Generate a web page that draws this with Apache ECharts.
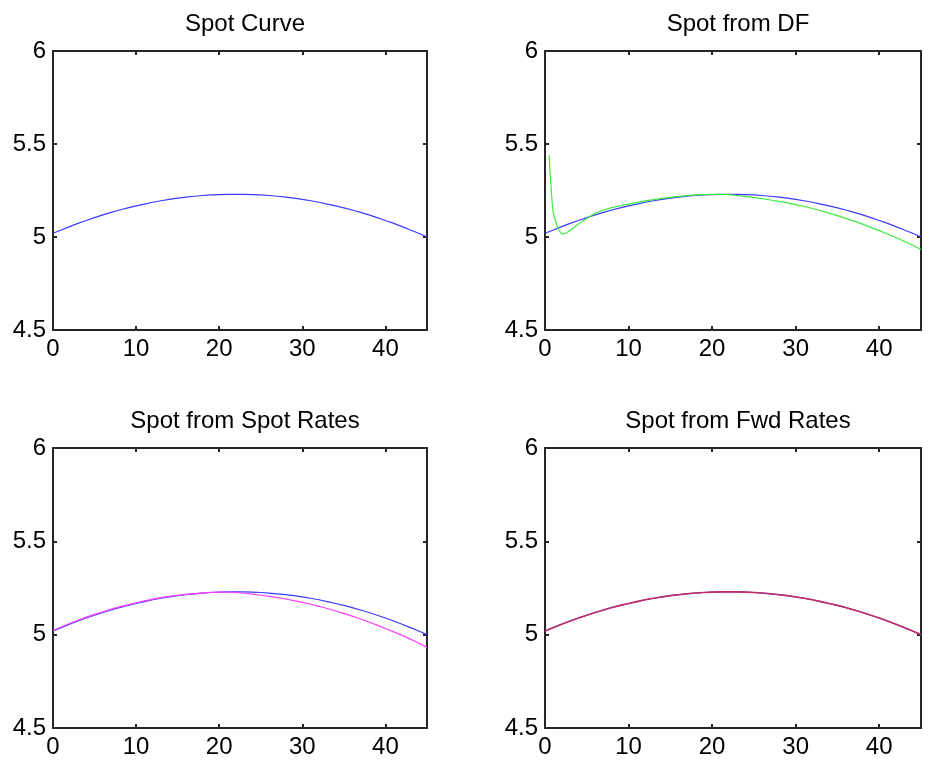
<!DOCTYPE html>
<html>
<head>
<meta charset="utf-8">
<script src="https://cdn.jsdelivr.net/npm/echarts@6/dist/echarts.min.js"></script>
<style>
html,body{margin:0;padding:0;background:#fff;}
#chart{width:930px;height:776px;}
</style>
</head>
<body>
<div id="chart"></div>
<script>
// ---- data ----
var panelTitles = ['Spot Curve', 'Spot from DF', 'Spot from Spot Rates', 'Spot from Fwd Rates'];
var xTickLabels = [0, 10, 20, 30, 40];
var yTickLabels = [4.5, 5, 5.5, 6];

var years = [0,1,2,3,4,5,6,7,8,9,10,11,12,13,14,15,16,17,18,19,20,21,22,23,24,25,26,27,28,29,30,31,32,33,34,35,36,37,38,39,40,41,42,43,44,45];

var spotCurve = [5.020,5.038,5.056,5.073,5.089,5.104,5.119,5.132,5.145,5.157,5.167,5.177,5.187,5.195,5.202,5.209,5.214,5.219,5.223,5.226,5.228,5.229,5.229,5.229,5.228,5.226,5.223,5.219,5.214,5.209,5.202,5.195,5.187,5.177,5.167,5.157,5.145,5.132,5.119,5.104,5.089,5.073,5.056,5.038,5.020,5.000];

var dfYears = [0.5,0.6,0.7,0.8,0.9,1.0,1.2,1.5,2.0,2.5,3,4,5,6,7,8,9,10,11,12,13,14,15,16,17,18,19,20,21,22,23,24,25,26,27,28,29,30,31,32,33,34,35,36,37,38,39,40,41,42,43,44,45];
var spotFromDF = [5.440,5.350,5.290,5.220,5.160,5.130,5.095,5.050,5.015,5.020,5.035,5.070,5.100,5.128,5.145,5.158,5.168,5.177,5.186,5.194,5.201,5.208,5.213,5.218,5.222,5.226,5.228,5.229,5.229,5.228,5.223,5.218,5.212,5.206,5.199,5.192,5.183,5.174,5.164,5.153,5.141,5.128,5.115,5.100,5.085,5.069,5.052,5.034,5.016,4.997,4.977,4.956,4.933];

var spotFromSpot = [5.022,5.041,5.060,5.077,5.094,5.109,5.123,5.137,5.149,5.160,5.171,5.181,5.190,5.198,5.205,5.211,5.216,5.220,5.224,5.227,5.228,5.228,5.226,5.222,5.217,5.211,5.205,5.198,5.191,5.182,5.173,5.163,5.152,5.140,5.127,5.114,5.099,5.084,5.068,5.051,5.033,5.015,4.996,4.976,4.955,4.932];

var spotFromFwd = [5.020,5.038,5.056,5.073,5.089,5.104,5.119,5.132,5.145,5.157,5.167,5.177,5.187,5.195,5.202,5.209,5.214,5.219,5.223,5.226,5.228,5.229,5.229,5.229,5.228,5.226,5.223,5.219,5.214,5.209,5.202,5.195,5.187,5.177,5.167,5.157,5.145,5.132,5.119,5.104,5.089,5.073,5.056,5.038,5.020,5.000];

function pairs(xs, ys){ return xs.map(function(x,i){ return [x, ys[i]]; }); }

// ---- layout ----
var FONT = 'Liberation Sans, Arial, sans-serif';
var AX = '#262626';
var W = 930;
var grids = [
  {left:53, top:51, right:W-427, height:279},
  {left:545, top:51, right:W-921, height:279},
  {left:53, top:448, right:W-427, height:280},
  {left:545, top:448, right:W-921, height:280}
];

var xMin = xTickLabels[0], xMax = 45, xInt = xTickLabels[1]-xTickLabels[0];
var yMin = yTickLabels[0], yMax = yTickLabels[yTickLabels.length-1], yInt = yTickLabels[1]-yTickLabels[0];

var xAxes = [], yAxes = [], titles = [];
grids.forEach(function(g, i){
  var gw = W - g.right - g.left;
  titles.push({
    text: panelTitles[i], left: g.left + gw/2, top: g.top - 44, textAlign: 'center',
    textStyle: {fontFamily: FONT, fontSize: 24, fontWeight: 'normal', color: '#000'}
  });
  var base = {
    type:'value', gridIndex:i, min:xMin, max:xMax, interval:xInt,
    axisLine:{show:true, onZero:false, lineStyle:{color:AX, width:2}},
    axisTick:{show:true, inside:true, length:4, lineStyle:{color:AX, width:2}},
    splitLine:{show:false}
  };
  xAxes.push(Object.assign({}, base, {position:'bottom',
    axisLabel:{show:true, fontFamily:FONT, fontSize:24, color:'#000', margin:7, showMaxLabel:false,
      formatter:function(v){ return xTickLabels.indexOf(v) >= 0 ? String(v) : ''; }}}));
  xAxes.push(Object.assign({}, base, {position:'top', axisLabel:{show:false}}));
  var ybase = {
    type:'value', gridIndex:i, min:yMin, max:yMax, interval:yInt,
    axisLine:{show:true, onZero:false, lineStyle:{color:AX, width:2}},
    axisTick:{show:true, inside:true, length:4, lineStyle:{color:AX, width:2}},
    splitLine:{show:false}
  };
  yAxes.push(Object.assign({}, ybase, {position:'left',
    axisLabel:{show:true, fontFamily:FONT, fontSize:24, color:'#000', margin:7}}));
  yAxes.push(Object.assign({}, ybase, {position:'right', axisLabel:{show:false}}));
});

function line(gi, data, color, z, w){
  return {
    type:'line', xAxisIndex: gi*2, yAxisIndex: gi*2, data: data,
    showSymbol:false, symbol:'none', smooth:false, z: z || 2,
    lineStyle:{color:color, width:w || 1.2}, silent:true
  };
}

var BLUE = '#3b3bff';
var series = [
  line(0, pairs(years, spotCurve), BLUE),
  line(1, pairs(years, spotCurve), BLUE),
  line(1, pairs(dfYears, spotFromDF), '#3cee3c', 3),
  line(2, pairs(years, spotCurve), BLUE),
  line(2, pairs(years, spotFromSpot), '#ff3cff', 3),
  line(3, pairs(years, spotCurve), BLUE),
  line(3, pairs(years, spotFromFwd), '#c32c66', 3, 1.6)
];

var chart = echarts.init(document.getElementById('chart'), null, {renderer:'canvas'});
chart.setOption({
  animation:false,
  backgroundColor:'#ffffff',
  title: titles,
  grid: grids,
  xAxis: xAxes,
  yAxis: yAxes,
  series: series
});
</script>
</body>
</html>
